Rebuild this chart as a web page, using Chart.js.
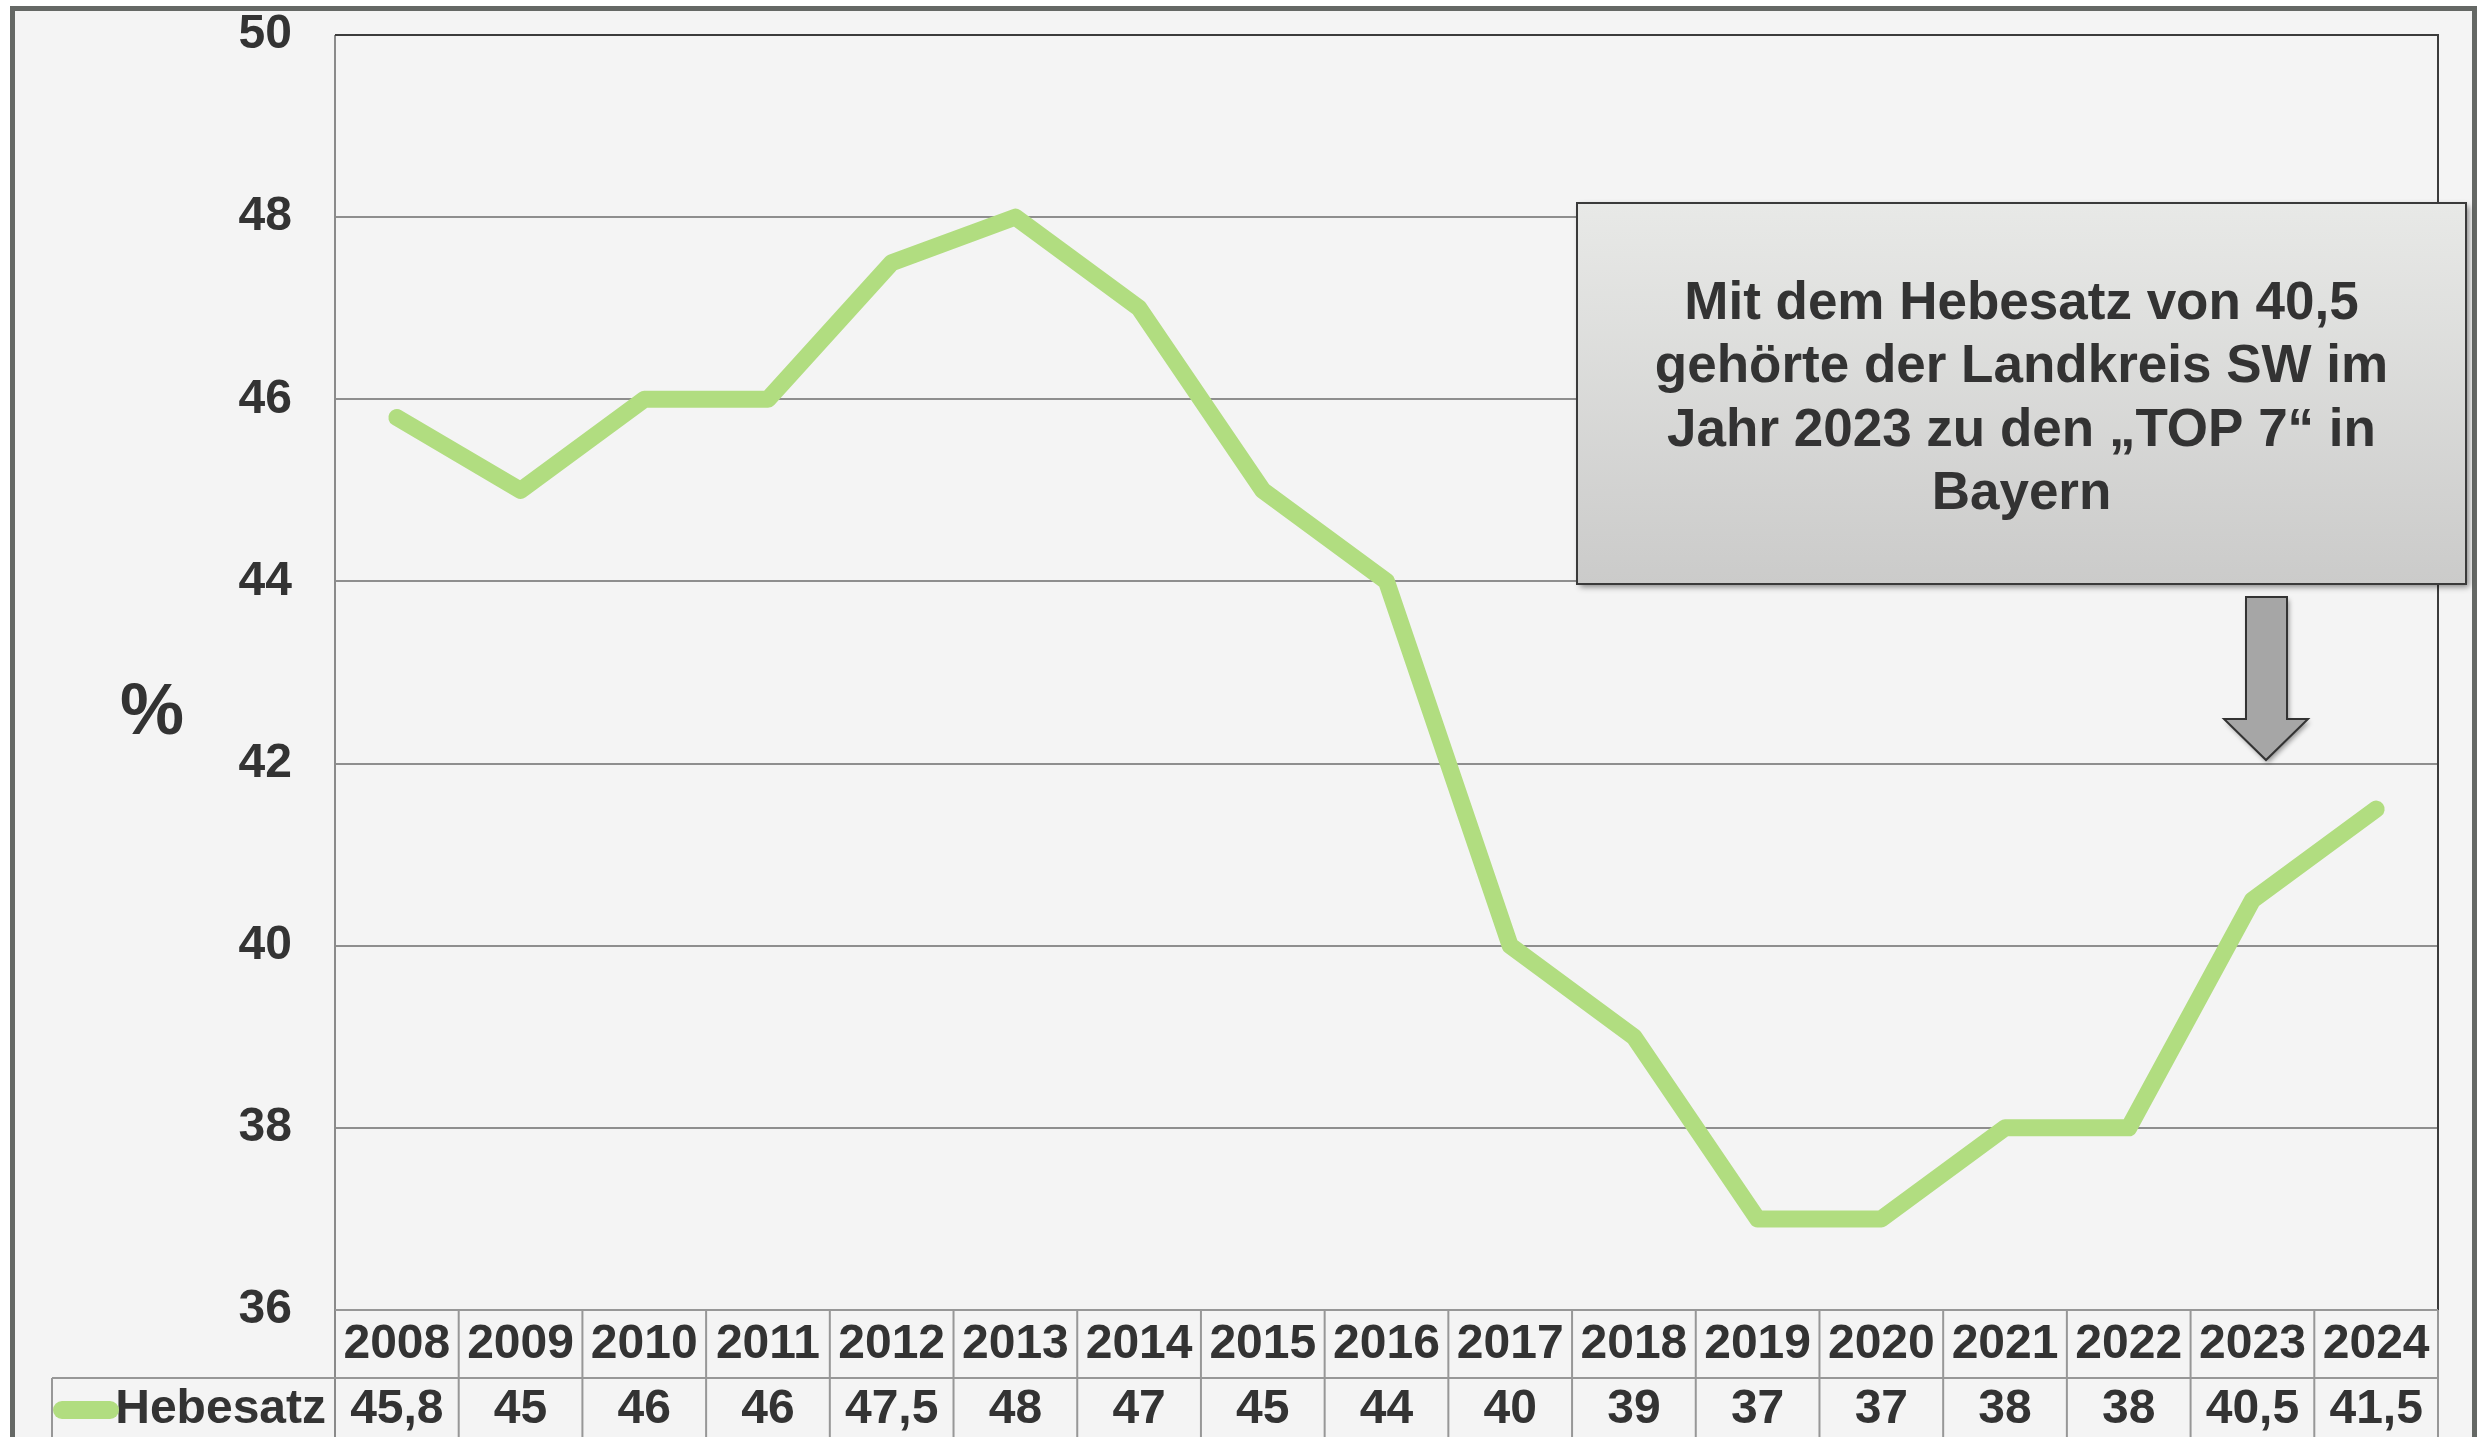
<!DOCTYPE html>
<html>
<head>
<meta charset="utf-8">
<script src="https://cdn.jsdelivr.net/npm/chart.js@4/dist/chart.umd.min.js"></script>
<style>
  html, body { margin: 0; padding: 0; background: #ffffff; }
  canvas { display: block; }
</style>
</head>
<body>
<canvas id="hebesatzChart" width="2486" height="1437"></canvas>
<script>
// Daten aus der Grafik
const years = ['2008', '2009', '2010', '2011', '2012', '2013', '2014', '2015', '2016',
               '2017', '2018', '2019', '2020', '2021', '2022', '2023', '2024'];
const hebesatz = [45.8, 45, 46, 46, 47.5, 48, 47, 45, 44, 40, 39, 37, 37, 38, 38, 40.5, 41.5];
const seriesName = 'Hebesatz';
const yMin = 36, yMax = 50, yStep = 2;
const unitLabel = '%';
const noteLines = ['Mit dem Hebesatz von 40,5', 'gehörte der Landkreis SW im',
                   'Jahr 2023 zu den \u201ETOP 7\u201C in', 'Bayern'];

const FONT = '"Liberation Sans", Arial, sans-serif';
const TEXT = '#333333';
const LINE_GREEN = '#b1dd80';
const TABLE_GRAY = '#979797';

// Hintergrund, Rahmen, Tabelle, Hinweis-Box
const decorPlugin = {
    id: 'decor',
    beforeDraw(chart) {
        const ctx = chart.ctx;
        ctx.save();
        ctx.fillStyle = '#ffffff';
        ctx.fillRect(0, 0, chart.width, chart.height);
        ctx.fillStyle = '#f4f4f4';
        ctx.fillRect(12, 8, 2462, chart.height);
        ctx.strokeStyle = '#656865';
        ctx.lineWidth = 5;
        ctx.strokeRect(12.5, 8.5, 2462, chart.height + 20);
        ctx.restore();
    },
    afterDraw(chart) {
        const ctx = chart.ctx;
        const area = chart.chartArea;
        const x = chart.scales.x;
        const step = x.getPixelForValue(1) - x.getPixelForValue(0);
        const row1 = area.bottom;
        const row2 = row1 + 68;
        const rowEnd = chart.height + 5;
        const legendLeft = 52;

        ctx.save();
        // Rahmen der Zeichenfläche
        ctx.lineWidth = 2;
        ctx.strokeStyle = '#8a8a8a';
        ctx.beginPath();
        ctx.moveTo(area.left, area.top);
        ctx.lineTo(area.left, rowEnd);
        ctx.stroke();
        ctx.strokeStyle = '#3c3c3c';
        ctx.beginPath();
        ctx.moveTo(area.left, area.top);
        ctx.lineTo(area.right, area.top);
        ctx.lineTo(area.right, area.bottom);
        ctx.stroke();

        // Datentabelle
        ctx.strokeStyle = TABLE_GRAY;
        ctx.beginPath();
        ctx.moveTo(area.left, row1);
        ctx.lineTo(area.right, row1);
        ctx.moveTo(legendLeft, row2);
        ctx.lineTo(area.right, row2);
        ctx.moveTo(legendLeft, row2);
        ctx.lineTo(legendLeft, rowEnd);
        for (let i = 0; i < years.length; i++) {
            const bx = x.getPixelForValue(i) + step / 2;
            ctx.moveTo(bx, row1);
            ctx.lineTo(bx, rowEnd);
        }
        ctx.stroke();

        ctx.fillStyle = TEXT;
        ctx.font = 'bold 48px ' + FONT;
        ctx.textAlign = 'center';
        ctx.textBaseline = 'middle';
        const valY = row2 + 32;
        hebesatz.forEach((v, i) => {
            ctx.fillText(String(v).replace('.', ','), x.getPixelForValue(i), valY);
        });
        ctx.textAlign = 'right';
        ctx.fillText(seriesName, area.left - 9, valY);

        // Legenden-Symbol
        ctx.strokeStyle = LINE_GREEN;
        ctx.lineWidth = 18;
        ctx.lineCap = 'round';
        ctx.beginPath();
        ctx.moveTo(legendLeft + 10, valY);
        ctx.lineTo(legendLeft + 58, valY);
        ctx.stroke();

        // Achsenbeschriftung %
        ctx.fillStyle = TEXT;
        ctx.font = 'bold 72px ' + FONT;
        ctx.textAlign = 'center';
        ctx.fillText(unitLabel, 152, 714);

        // Hinweis-Box
        const bx0 = 1577, by0 = 203, bw = 889, bh = 381;
        ctx.save();
        ctx.shadowColor = 'rgba(0,0,0,0.45)';
        ctx.shadowBlur = 6;
        ctx.shadowOffsetX = 3;
        ctx.shadowOffsetY = 3;
        const grad = ctx.createLinearGradient(0, by0, 0, by0 + bh);
        grad.addColorStop(0, '#e8e9e7');
        grad.addColorStop(1, '#cbcbca');
        ctx.fillStyle = grad;
        ctx.fillRect(bx0, by0, bw, bh);
        ctx.restore();
        ctx.strokeStyle = '#3a3a3a';
        ctx.lineWidth = 2;
        ctx.strokeRect(bx0, by0, bw, bh);
        ctx.fillStyle = TEXT;
        ctx.font = 'bold 53px ' + FONT;
        ctx.textAlign = 'center';
        ctx.textBaseline = 'middle';
        noteLines.forEach((t, i) => ctx.fillText(t, bx0 + bw / 2, 304 + i * 63.5));

        // Pfeil
        ctx.save();
        ctx.shadowColor = 'rgba(0,0,0,0.4)';
        ctx.shadowBlur = 5;
        ctx.shadowOffsetX = 2;
        ctx.shadowOffsetY = 3;
        ctx.beginPath();
        ctx.moveTo(2246, 597);
        ctx.lineTo(2287, 597);
        ctx.lineTo(2287, 719);
        ctx.lineTo(2308, 719);
        ctx.lineTo(2266, 760);
        ctx.lineTo(2224, 719);
        ctx.lineTo(2246, 719);
        ctx.closePath();
        ctx.fillStyle = '#a6a6a6';
        ctx.fill();
        ctx.restore();
        ctx.strokeStyle = '#333333';
        ctx.lineWidth = 2;
        ctx.lineJoin = 'miter';
        ctx.stroke();
        ctx.restore();
    }
};

const ctx = document.getElementById('hebesatzChart').getContext('2d');
new Chart(ctx, {
    type: 'line',
    data: {
        labels: years,
        datasets: [{
            label: seriesName,
            data: hebesatz,
            borderColor: LINE_GREEN,
            backgroundColor: LINE_GREEN,
            borderWidth: 17,
            borderCapStyle: 'round',
            borderJoinStyle: 'round',
            pointRadius: 0,
            pointHoverRadius: 0,
            tension: 0,
            fill: false
        }]
    },
    options: {
        responsive: false,
        animation: false,
        devicePixelRatio: 1,
        layout: { padding: { left: 0, right: 48, top: 35, bottom: 0 } },
        plugins: {
            legend: { display: false },
            tooltip: { enabled: false }
        },
        scales: {
            x: {
                offset: true,
                grid: { display: false, drawTicks: false },
                border: { display: false },
                ticks: {
                    color: TEXT,
                    font: { family: FONT, size: 48, weight: 'bold' },
                    padding: 6,
                    maxRotation: 0,
                    autoSkip: false
                },
                afterFit(scale) {
                    scale.height = 127;
                    scale.paddingLeft = 0;
                    scale.paddingRight = 0;
                }
            },
            y: {
                min: yMin,
                max: yMax,
                grid: { color: '#8e8e8e', lineWidth: 2, drawTicks: false },
                border: { display: false },
                ticks: {
                    stepSize: yStep,
                    color: TEXT,
                    font: { family: FONT, size: 48, weight: 'bold' },
                    padding: 43
                },
                afterFit(scale) {
                    scale.width = 335;
                    scale.paddingTop = 0;
                    scale.paddingBottom = 0;
                }
            }
        }
    },
    plugins: [decorPlugin]
});
</script>
</body>
</html>
